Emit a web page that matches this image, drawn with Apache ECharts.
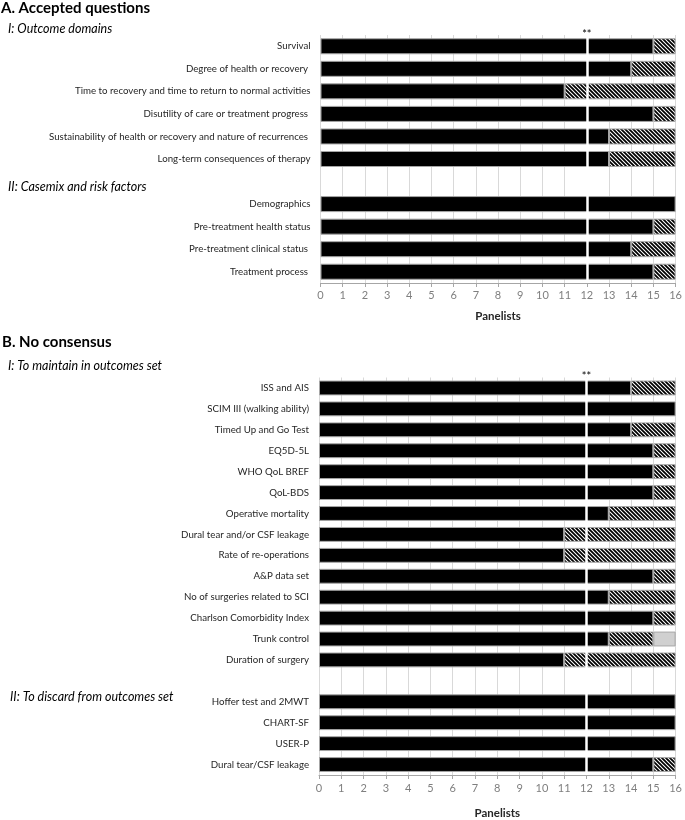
<!DOCTYPE html>
<html><head><meta charset="utf-8">
<script src="https://cdn.jsdelivr.net/npm/echarts@6/dist/echarts.min.js"></script>
<style>html,body{margin:0;padding:0;background:#fff}#c{width:685px;height:820px}</style>
</head><body><div id="c"></div>
<script>
// ---- Panel A data ----
const catsA = ['Survival','Degree of health or recovery ','Time to recovery and time to return to normal activities','Disutility of care or treatment progress ','Sustainability of health or recovery and nature of recurrences ','Long-term consequences of therapy','','Demographics','Pre-treatment health status','Pre-treatment clinical status ','Treatment process '];
const blackA = [15,14,11,15,13,13,null,16,15,14,15];
const hatchA = [1,2,5,1,3,3,null,0,1,2,1];
const grayA  = [0,0,0,0,0,0,null,0,0,0,0];
// ---- Panel B data ----
const catsB = ['ISS and AIS','SCIM III (walking ability)','Timed Up and Go Test','EQ5D-5L','WHO QoL BREF','QoL-BDS','Operative mortality','Dural tear and/or CSF leakage','Rate of re-operations','A&P data set','No of surgeries related to SCI','Charlson Comorbidity Index','Trunk control','Duration of surgery','','Hoffer test and 2MWT','CHART-SF','USER-P','Dural tear/CSF leakage'];
const blackB = [14,16,14,15,15,15,13,11,11,15,13,15,13,11,null,16,16,16,15];
const hatchB = [2,0,2,1,1,1,3,5,5,1,3,1,2,5,null,0,0,0,1];
const grayB  = [0,0,0,0,0,0,0,0,0,0,0,0,1,0,null,0,0,0,0];
const xTicks = [0,1,2,3,4,5,6,7,8,9,10,11,12,13,14,15,16];
const thresholdX = 12;
const FONT = 'Lato';

function hatchCanvas(){
  const s=4, c=document.createElement('canvas'); c.width=s; c.height=s;
  const g=c.getContext('2d'); g.fillStyle='#fff'; g.fillRect(0,0,s,s);
  g.strokeStyle='#000'; g.lineWidth=1.8; g.beginPath();
  g.moveTo(-1,-1); g.lineTo(s+1,s+1);
  g.moveTo(-1,s-1); g.lineTo(1,s+1);
  g.moveTo(s-1,-1); g.lineTo(s+1,1);
  g.stroke(); return c;
}
const hatchFill = {image: hatchCanvas(), repeat:'repeat'};
const nz = a => a.map(v => (v===0 ? null : v));

function xAxis(gi, nameGap, labMargin){
  return {gridIndex:gi, type:'value', min:0, max:16, interval:1,
    splitLine:{show:true, lineStyle:{color:'#d9d9d9', width:1}},
    axisLine:{show:true, lineStyle:{color:'#a6a6a6'}},
    axisTick:{show:true, length:4, lineStyle:{color:'#a6a6a6'}},
    axisLabel:{color:'#7f7f7f', fontSize:11, fontFamily:FONT, margin:labMargin,
      formatter: v => xTicks.includes(v) ? String(v) : ''},
    name:'Panelists', nameLocation:'middle', nameGap:nameGap,
    nameTextStyle:{fontWeight:'bold', fontSize:11.5, color:'#262626', fontFamily:FONT}};
}
function yAxis(gi, cats){
  return {gridIndex:gi, type:'category', data:cats, inverse:true,
    axisLine:{show:false}, axisTick:{show:false}, splitLine:{show:false},
    axisLabel:{color:'#262626', fontSize:9.7, fontFamily:FONT, margin:10, interval:0}};
}
function series(idx, name, data, color, extra){
  return Object.assign({type:'bar', name:name, stack:'s'+idx, xAxisIndex:idx, yAxisIndex:idx,
    data:nz(data), barWidth:'71%', silent:true, animation:false,
    itemStyle:{color:color, borderColor:'#a6a6a6', borderWidth:1}}, extra||{});
}
function marks(idx, firstCat){
  return {
    markLine:{silent:true, symbol:['none','none'], label:{show:false},
      lineStyle:{color:'#fff', width:2.5, type:'solid'}, data:[{xAxis:thresholdX}]},
    markPoint:{silent:true, symbol:'circle', symbolSize:0,
      label:{show:true, formatter:'**', color:'#000', fontSize:11, fontFamily:FONT, offset:[0,-12]},
      data:[{coord:[thresholdX, firstCat]}]}
  };
}

const chart = echarts.init(document.getElementById('c'), null, {renderer:'canvas'});
chart.setOption({
  backgroundColor:'#fff', animation:false,
  grid:[
    {left:320.5, top:35, width:359, height:248},
    {left:319, top:377.5, width:358.7, height:406}
  ],
  xAxis:[xAxis(0,27,7), xAxis(1,32,8)],
  yAxis:[yAxis(0,catsA), yAxis(1,catsB)],
  series:[
    series(0,'Agree',blackA,'#000'),
    series(0,'Disagree',hatchA,hatchFill, marks(0,catsA[0])),
    series(0,'Missing',grayA,'#d0d0d0'),
    series(1,'Agree',blackB,'#000'),
    series(1,'Disagree',hatchB,hatchFill, marks(1,catsB[0])),
    series(1,'Missing',grayB,'#d0d0d0')
  ],
  graphic:[
    {type:'text', x:1, y:8, style:{text:'A. Accepted questions', font:'bold 15px '+FONT, fill:'#000', textVerticalAlign:'middle'}},
    {type:'text', x:8, y:29, style:{text:'I: Outcome domains', font:'italic 12.5px '+FONT, fill:'#000', textVerticalAlign:'middle'}},
    {type:'text', x:8, y:187, style:{text:'II: Casemix and risk factors', font:'italic 12.5px '+FONT, fill:'#000', textVerticalAlign:'middle'}},
    {type:'text', x:2, y:342, style:{text:'B. No consensus', font:'bold 15px '+FONT, fill:'#000', textVerticalAlign:'middle'}},
    {type:'text', x:8, y:366, style:{text:'I: To maintain in outcomes set', font:'italic 12.5px '+FONT, fill:'#000', textVerticalAlign:'middle'}},
    {type:'text', x:10, y:697, style:{text:'II: To discard from outcomes set', font:'italic 12.5px '+FONT, fill:'#000', textVerticalAlign:'middle'}}
  ]
});
</script></body></html>
